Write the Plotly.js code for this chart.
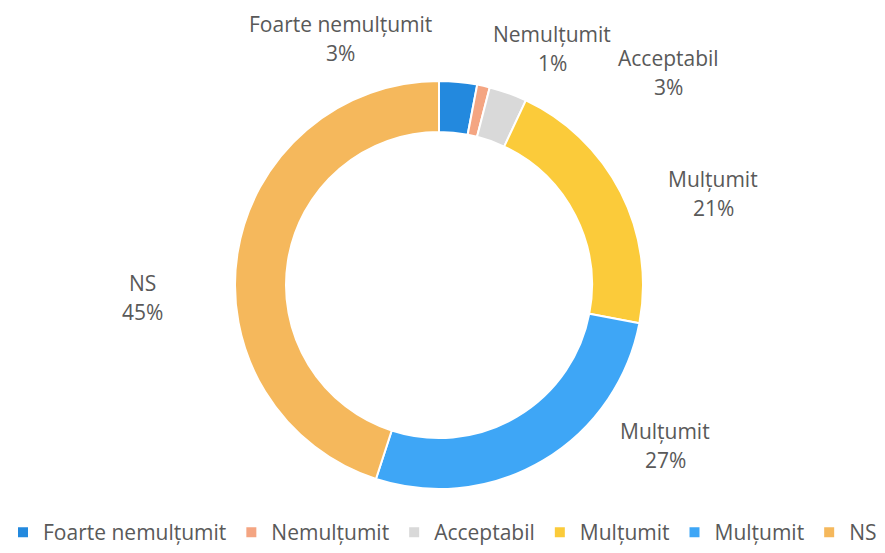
<!DOCTYPE html>
<html>
<head>
<meta charset="utf-8">
<script src="https://cdn.plot.ly/plotly-3.0.1.min.js"></script>
<style>html,body{margin:0;padding:0;background:#fff;}#chart{width:885px;height:553px;}</style>
</head>
<body>
<div id="chart"></div>
<script>
// ---- data ----
const categories = ["Foarte nemulțumit", "Nemulțumit", "Acceptabil", "Mulțumit", "Mulțumit", "NS"];
const values = [3, 1, 3, 21, 27, 45];

// ---- styling / layout (not data) ----
const colors = ["#2389DE", "#F4A582", "#D9D9D9", "#FBCB3A", "#3EA6F6", "#F5B85C"];
// label block centres in page pixels (Excel-style manual label placement)
const labelPos = [[340, 38], [552, 48], [668, 72], [713, 193], [665, 445], [142, 297]];
const W = 885, H = 553;
const textColor = "#595959";
const fontFam = "Open Sans";
const fontSize = 21;

// pie labels must be unique, so the duplicate gets an invisible suffix
const seen = {};
const uniqueLabels = categories.map(c => {
  seen[c] = (seen[c] || 0) + 1;
  return seen[c] > 1 ? c + "\u200B".repeat(seen[c] - 1) : c;
});

const total = values.reduce((a, b) => a + b, 0);

const trace = {
  type: "pie",
  labels: uniqueLabels,
  values: values,
  sort: false,
  direction: "clockwise",
  rotation: 0,
  hole: 0.75,
  marker: {colors: colors, line: {color: "#ffffff", width: 2}},
  textinfo: "none",
  hoverinfo: "none",
  domain: {x: [0.2655, 0.7266], y: [0.1157, 0.8535]}
};

const annotations = [];
categories.forEach((c, i) => {
  const [px, py] = labelPos[i];
  const pct = Math.round(values[i] / total * 100) + "%";
  annotations.push({
    xref: "paper", yref: "paper",
    x: px / W, y: 1 - (py - 14) / H,
    text: c, showarrow: false,
    xanchor: "center", yanchor: "middle",
    font: {family: fontFam, size: fontSize, color: textColor}
  });
  annotations.push({
    xref: "paper", yref: "paper",
    x: px / W, y: 1 - (py + 15) / H,
    text: pct, showarrow: false,
    xanchor: "center", yanchor: "middle",
    font: {family: fontFam, size: fontSize, color: textColor}
  });
});

const layout = {
  width: W,
  height: H,
  margin: {l: 0, r: 0, t: 0, b: 0, autoexpand: false},
  paper_bgcolor: "#ffffff",
  showlegend: true,
  annotations: annotations,
  legend: {
    orientation: "h",
    xref: "container", yref: "container",
    x: 0.5, xanchor: "center",
    y: -0.03, yanchor: "bottom",
    itemwidth: 30,
    font: {family: fontFam, size: fontSize, color: textColor}
  }
};

Plotly.newPlot("chart", [trace], layout, {displayModeBar: false, staticPlot: true});
</script>
</body>
</html>
